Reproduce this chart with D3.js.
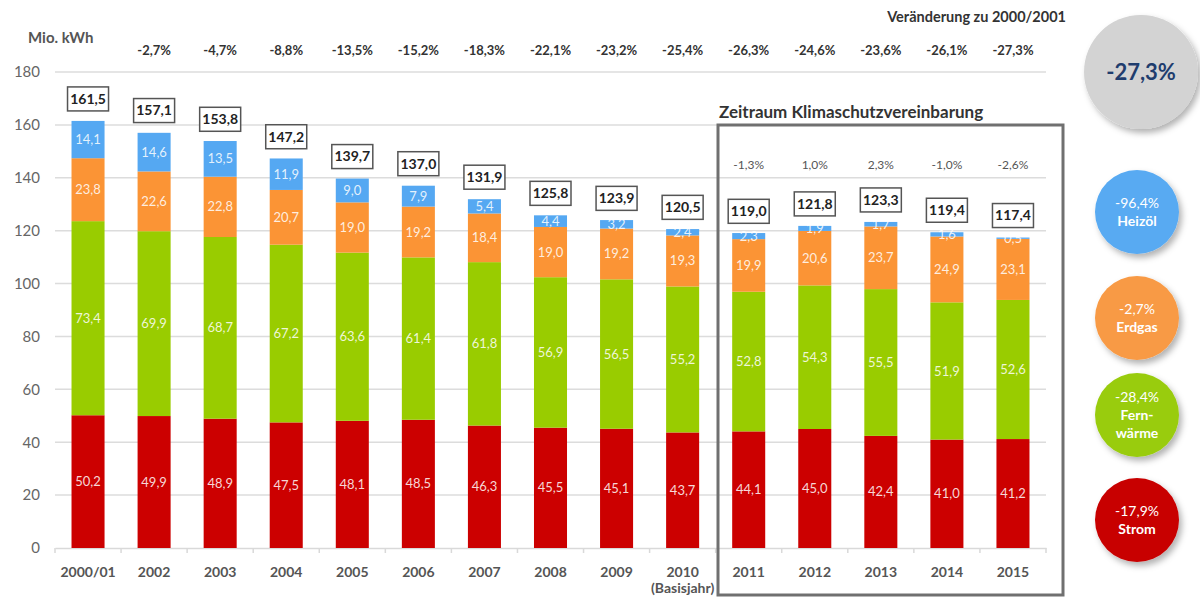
<!DOCTYPE html>
<html><head><meta charset="utf-8">
<script src="https://cdn.jsdelivr.net/npm/d3@7"></script>
<style>
html,body{margin:0;padding:0;background:#fff;}
svg{display:block;font-family:Lato,"Open Sans",sans-serif;}
</style></head>
<body>
<svg id="chart" width="1200" height="597"></svg>
<script>
const categories = ["2000/01","2002","2003","2004","2005","2006","2007","2008","2009","2010","2011","2012","2013","2014","2015"];
const strom      = [50.2,49.9,48.9,47.5,48.1,48.5,46.3,45.5,45.1,43.7,44.1,45.0,42.4,41.0,41.2];
const fernwaerme = [73.4,69.9,68.7,67.2,63.6,61.4,61.8,56.9,56.5,55.2,52.8,54.3,55.5,51.9,52.6];
const erdgas     = [23.8,22.6,22.8,20.7,19.0,19.2,18.4,19.0,19.2,19.3,19.9,20.6,23.7,24.9,23.1];
const heizoel    = [14.1,14.6,13.5,11.9,9.0,7.9,5.4,4.4,3.2,2.4,2.3,1.9,1.7,1.6,0.5];
const totals     = [161.5,157.1,153.8,147.2,139.7,137.0,131.9,125.8,123.9,120.5,119.0,121.8,123.3,119.4,117.4];
const changeTo2000 = [null,"-2,7%","-4,7%","-8,8%","-13,5%","-15,2%","-18,3%","-22,1%","-23,2%","-25,4%","-26,3%","-24,6%","-23,6%","-26,1%","-27,3%"];
const yearlyChange = [null,null,null,null,null,null,null,null,null,null,"-1,3%","1,0%","2,3%","-1,0%","-2,6%"];
const seriesNames = ["Strom","Fernwärme","Erdgas","Heizöl"];
const seriesColors = ["#cc0000","#99cc00","#fb9435","#55a8f2"];
const yTicks = [0,20,40,60,80,100,120,140,160,180];
const legendPct = ["-96,4%","-2,7%","-28,4%","-17,9%"];
const legendLabels = [["Heizöl"],["Erdgas"],["Fern-","wärme"],["Strom"]];
const legendColors = ["#58aaf2","#f89a45","#99cc11","#c80000"];
const totalChange = "-27,3%";

const fmt = v => d3.format(".1f")(v).replace(".", ",");

const svg = d3.select("#chart");
const defs = svg.append("defs");
const f = defs.append("filter").attr("id","shadow").attr("x","-30%").attr("y","-30%").attr("width","170%").attr("height","170%");
f.append("feDropShadow").attr("dx",3).attr("dy",4).attr("stdDeviation",3).attr("flood-color","#000").attr("flood-opacity",0.3);

const x = d3.scaleBand().domain(categories).range([55,1046]).paddingInner(0.5).paddingOuter(0.25);
const y = d3.scaleLinear().domain([0,180]).range([548,72]);

// grid
svg.append("g").selectAll("line").data(yTicks.filter(d=>d>0)).join("line")
  .attr("x1",55).attr("x2",1046).attr("y1",d=>y(d)).attr("y2",d=>y(d))
  .attr("stroke","#dcdcdc").attr("stroke-width",1.5);

// y axis labels
const yAxis = d3.axisLeft(y).tickValues(yTicks).tickSize(0).tickPadding(0);
const yg = svg.append("g").attr("transform","translate(40,0)").call(yAxis);
yg.select(".domain").remove();
yg.selectAll("text").attr("font-size",15).attr("fill","#666").attr("font-family","Lato,sans-serif");

// x axis
const xAxis = d3.axisBottom(x).tickSize(0).tickPadding(19);
const xg = svg.append("g").attr("transform","translate(0,548)").call(xAxis);
xg.select(".domain").attr("stroke","#d9d9d9").attr("stroke-width",1.5);
xg.selectAll("text").attr("font-size",14).attr("font-weight","bold").attr("fill","#555").attr("font-family","Lato,sans-serif");
// category boundary ticks
const bounds = categories.map(c=>x(c)-(x.step()-x.bandwidth())/2).concat([x(categories[categories.length-1])+x.bandwidth()+(x.step()-x.bandwidth())/2]);
svg.append("g").selectAll("line").data(bounds).join("line")
  .attr("x1",d=>d).attr("x2",d=>d)
  .attr("y1",548).attr("y2",553).attr("stroke","#d9d9d9").attr("stroke-width",1.5);
svg.append("text").attr("x",x("2010")+x.bandwidth()/2).attr("y",593)
  .attr("text-anchor","middle").attr("font-size",14).attr("font-weight","bold").attr("fill","#555").text("(Basisjahr)");

// stacked bars
const rows = categories.map((c,i)=>({cat:c,Strom:strom[i],"Fernwärme":fernwaerme[i],Erdgas:erdgas[i],"Heizöl":heizoel[i]}));
const stacked = d3.stack().keys(seriesNames)(rows);
const color = d3.scaleOrdinal().domain(seriesNames).range(seriesColors);
const layers = svg.append("g").selectAll("g").data(stacked).join("g").attr("fill",d=>color(d.key));
layers.selectAll("rect").data(d=>d).join("rect")
  .attr("x",d=>x(d.data.cat)).attr("width",x.bandwidth())
  .attr("y",d=>y(d[1])).attr("height",d=>y(d[0])-y(d[1]));
const lab = svg.append("g").selectAll("g").data(stacked).join("g");
lab.selectAll("text").data(d=>d.map(v=>({v,key:d.key}))).join("text")
  .attr("x",d=>x(d.v.data.cat)+x.bandwidth()/2)
  .attr("y",d=>(y(d.v[0])+y(d.v[1]))/2)
  .attr("dy","0.35em").attr("text-anchor","middle")
  .attr("font-size",13).attr("fill","rgba(255,255,255,0.85)")
  .text(d=>fmt(d.v.data[d.key]));

// total boxes
const tb = svg.append("g").selectAll("g").data(categories).join("g")
  .attr("transform",(c,i)=>`translate(${x(c)+x.bandwidth()/2},${y(totals[i])-22})`);
tb.append("rect").attr("x",-20.5).attr("y",-12).attr("width",41).attr("height",24)
  .attr("fill","#fff").attr("stroke","#555").attr("stroke-width",1.5);
tb.append("text").attr("text-anchor","middle").attr("dy","0.35em").attr("font-size",14).attr("font-weight","bold").attr("fill","#222")
  .text((c,i)=>fmt(totals[i]));

// change to 2000/01 row
svg.append("g").selectAll("text").data(categories).join("text")
  .attr("x",c=>x(c)+x.bandwidth()/2).attr("y",50).attr("dy","0.35em").attr("text-anchor","middle")
  .attr("font-size",13).attr("font-weight","bold").attr("fill","#333")
  .text((c,i)=>changeTo2000[i]||"");

svg.append("text").attr("x",1066).attr("y",22).attr("text-anchor","end")
  .attr("font-size",14.5).attr("font-weight","bold").attr("fill","#333").text("Veränderung zu 2000/2001");
svg.append("text").attr("x",28).attr("y",43)
  .attr("font-size",15).attr("font-weight","bold").attr("fill","#555").text("Mio. kWh");

// Klimaschutz box
svg.append("rect").attr("x",718).attr("y",125).attr("width",345).attr("height",470)
  .attr("fill","none").attr("stroke","#707070").attr("stroke-width",3);
svg.append("text").attr("x",719).attr("y",118).attr("font-size",17).attr("font-weight","bold").attr("fill","#333")
  .text("Zeitraum Klimaschutzvereinbarung");
svg.append("g").selectAll("text").data(categories).join("text")
  .attr("x",c=>x(c)+x.bandwidth()/2).attr("y",165).attr("dy","0.35em").attr("text-anchor","middle")
  .attr("font-size",12).attr("fill","#555")
  .text((c,i)=>yearlyChange[i]||"");

// circles
const cx = 1137;
const big = svg.append("g").attr("transform","translate(1141,72)");
big.append("circle").attr("r",57).attr("fill","#d3d3d3").attr("filter","url(#shadow)");
big.append("text").attr("text-anchor","middle").attr("dy","0.35em").attr("font-size",22).attr("font-weight","bold").attr("fill","#1f3d6e").text(totalChange);

const cys = [212,318,415,520];
const lg = svg.append("g").selectAll("g").data(legendPct).join("g")
  .attr("transform",(d,i)=>`translate(${cx},${cys[i]})`);
lg.append("circle").attr("r",42).attr("fill",(d,i)=>legendColors[i]).attr("filter","url(#shadow)");
lg.each(function(d,i){
  const g = d3.select(this);
  const lines = [legendPct[i]].concat(legendLabels[i]);
  const lh = 18;
  const y0 = -(lines.length-1)*lh/2;
  lines.forEach((t,k)=>{
    g.append("text").attr("text-anchor","middle").attr("y",y0+k*lh).attr("dy","0.35em")
      .attr("font-size",14).attr("font-weight",k===0?"normal":"bold").attr("fill","#fff").text(t);
  });
});
</script>
</body></html>
